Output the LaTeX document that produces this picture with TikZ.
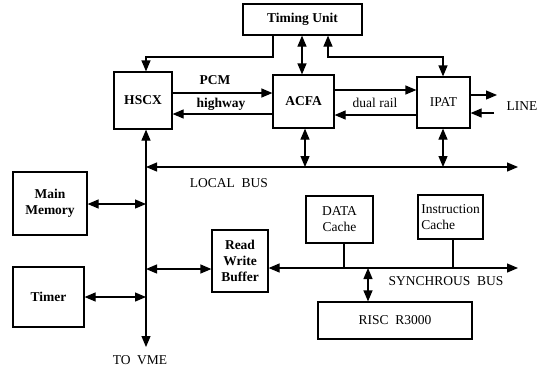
\documentclass[tikz,border=0pt]{standalone}
\usepackage{fontspec}
\setmainfont{Liberation Serif}
\usetikzlibrary{arrows.meta}
\begin{document}
\begin{tikzpicture}[x=1pt,y=-1pt,
  font=\fontsize{13.5}{16}\selectfont,
  line width=1.2pt,
  tip/.tip={Triangle[length=11pt,width=9pt]},
  blk/.style={draw,inner sep=0pt,align=center},
  bld/.style={font=\fontsize{13.5}{16}\selectfont\bfseries},
  lbl/.style={inner sep=0pt},
  one/.style={-{tip}},
  two/.style={{tip}-{tip}}]
\useasboundingbox (0,0) rectangle (551,368);

% blocks
\node[blk,bld,minimum width=119pt,minimum height=31pt] (timing) at (302.5,19.5) {Timing Unit};
\node[blk,bld,minimum width=58pt,minimum height=57pt] (hscx) at (143,100.5) {HSCX};
\node[blk,bld,minimum width=61pt,minimum height=53pt] (acfa) at (303.5,101.5) {ACFA};
\node[blk,minimum width=53pt,minimum height=51pt] (ipat) at (443.5,102.5) {IPAT};
\node[blk,bld,minimum width=74pt,minimum height=63pt] (mem) at (50,203.5) {Main\\Memory};
\node[blk,bld,minimum width=71pt,minimum height=60pt] (timer) at (48.5,297) {Timer};
\node[blk,bld,minimum width=56pt,minimum height=62pt] (rwb) at (240,261) {Read\\Write\\Buffer};
\node[blk,minimum width=67pt,minimum height=47pt] (data) at (339.5,219.5) {DATA\\Cache};
\node[blk,align=left,minimum width=65pt,minimum height=44pt] (instr) at (450.5,217) {Instruction\\Cache};
\node[blk,minimum width=154pt,minimum height=37pt] (risc) at (395,320.5) {RISC\hspace{0.5em}R3000};

% bus and junction points
\coordinate (vb) at (146,0);
\coordinate (tj) at (273,57);
\coordinate (tjh) at (146,57);
\coordinate (ij) at (443,57);
\coordinate (ij2) at (328,57);
\coordinate (lbL) at (146,167);
\coordinate (lbR) at (518,167);
\coordinate (vme) at (146,347);
\coordinate (sbR) at (518,268);
\coordinate (lineout) at (497,95);
\coordinate (linein) at (494,113);

% timing distribution
\draw[one] (timing.south -| tj) -- (tj) -- (tjh) -- (hscx.north -| vb);
\draw[two] (timing.south -| 302,0) -- (acfa.north -| 302,0);
\draw[two] (ipat.north -| ij) -- (ij) -- (ij2) -- (timing.south -| ij2);

% PCM highway and dual rail
\draw[one] (hscx.east |- 0,93) -- (acfa.west |- 0,93);
\draw[one] (acfa.west |- 0,114) -- (hscx.east |- 0,114);
\draw[one] (acfa.east |- 0,90) -- (ipat.west |- 0,90);
\draw[one] (ipat.west |- 0,115) -- (acfa.east |- 0,115);
\draw[one] (ipat.east |- lineout) -- (lineout);
\draw[one] (linein) -- (ipat.east |- linein);

% local bus
\draw[two] (lbL) -- (lbR);
\draw[two] (acfa.south -| 305,0) -- (lbR -| 305,0);
\draw[two] (ipat.south -| ij) -- (lbR -| ij);
\draw[two] (hscx.south -| vb) -- (vme);
\draw[two] (mem.east |- 0,204) -- (vb |- 0,204);
\draw[two] (timer.east |- 0,297) -- (vb |- 0,297);
\draw[two] (vb |- 0,269) -- (rwb.west |- 0,269);

% synchronous bus
\draw[two] (rwb.east |- sbR) -- (sbR);
\draw (data.south -| 344,0) -- (sbR -| 344,0);
\draw (instr.south -| 453,0) -- (sbR -| 453,0);
\draw[two] (sbR -| 368,0) -- (risc.north -| 368,0);

% labels
\node[lbl,bld] (pcm) at (215,80) {PCM};
\node[lbl,bld] (hw) at (221,104) {highway};
\node[lbl] (dr) at (375,103) {dual rail};
\node[lbl] (line) at (522,106) {LINE};
\node[lbl] (lbus) at (229,183) {LOCAL\hspace{0.5em}BUS};
\node[lbl] (tovme) at (140,360) {TO\hspace{0.5em}VME};
\node[lbl] (sbus) at (446,281) {SYNCHROUS\hspace{0.5em}BUS};
\end{tikzpicture}
\end{document}
